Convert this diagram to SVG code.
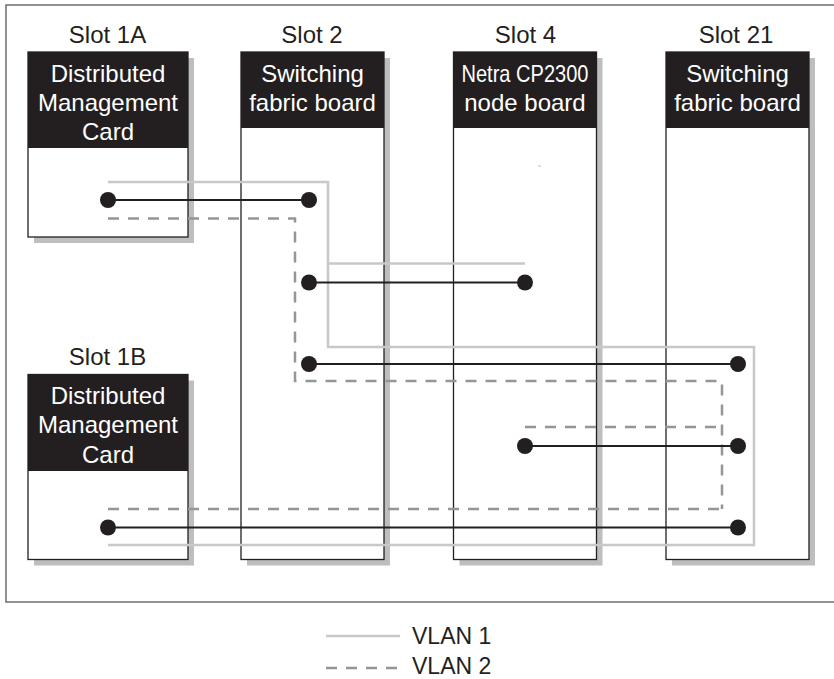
<svg xmlns="http://www.w3.org/2000/svg" width="834" height="679" viewBox="0 0 834 679">
  <style>
    .frame { fill: none; stroke: #6d6e71; stroke-width: 1.5; }
    .shadow { fill: #bcbec0; }
    .body { fill: #ffffff; stroke: #231f20; stroke-width: 1.3; }
    .head { fill: #231f20; }
    .slot { font-family: "Liberation Sans", Arial, sans-serif; font-size: 24px; fill: #231f20; text-anchor: middle; }
    .htxt { font-family: "Liberation Sans", Arial, sans-serif; font-size: 24px; fill: #ffffff; text-anchor: middle; }
    .vlan1 { fill: none; stroke: #c8c8c8; stroke-width: 2.5; }
    .vlan2 { fill: none; stroke: #939598; stroke-width: 2.5; stroke-dasharray: 11 9; }
    .link { fill: none; stroke: #231f20; stroke-width: 2.2; }
    .port { fill: #231f20; }
    .leg { font-family: "Liberation Sans", Arial, sans-serif; font-size: 23px; fill: #231f20; }
  </style>

  <!-- chassis outline -->
  <path class="frame" d="M834 5 H6 V602 H834"/>

  <!-- Slot 1A -->
  <g id="slot1a">
    <text class="slot" x="107.5" y="43">Slot 1A</text>
    <rect class="shadow" x="34" y="58" width="160" height="185"/>
    <rect class="body" x="28" y="52" width="160" height="185"/>
    <rect class="head" x="28" y="52" width="160" height="96"/>
    <text class="htxt" x="108" y="82">Distributed</text>
    <text class="htxt" x="108" y="110.5">Management</text>
    <text class="htxt" x="108" y="139.5">Card</text>
  </g>

  <!-- Slot 2 -->
  <g id="slot2">
    <text class="slot" x="312" y="43">Slot 2</text>
    <rect class="shadow" x="247" y="58" width="143" height="507.5"/>
    <rect class="body" x="241" y="52" width="143" height="507.5"/>
    <rect class="head" x="241" y="52" width="143" height="76"/>
    <text class="htxt" x="312.5" y="82">Switching</text>
    <text class="htxt" x="312.5" y="110.5">fabric board</text>
  </g>

  <!-- Slot 4 -->
  <g id="slot4">
    <text class="slot" x="525.5" y="43">Slot 4</text>
    <rect class="shadow" x="459.5" y="58" width="143" height="507.5"/>
    <rect class="body" x="453.5" y="52" width="143" height="507.5"/>
    <rect class="head" x="453.5" y="52" width="143" height="76"/>
    <text class="htxt" x="525" y="82" textLength="127" lengthAdjust="spacingAndGlyphs">Netra CP2300</text>
    <text class="htxt" x="525" y="110.5">node board</text>
    <rect x="538" y="165.5" width="3" height="1" fill="#bbbbbb"/>
  </g>

  <!-- Slot 21 -->
  <g id="slot21">
    <text class="slot" x="736" y="43">Slot 21</text>
    <rect class="shadow" x="672" y="58" width="143" height="507.5"/>
    <rect class="body" x="666" y="52" width="143" height="507.5"/>
    <rect class="head" x="666" y="52" width="143" height="76"/>
    <text class="htxt" x="737.5" y="82">Switching</text>
    <text class="htxt" x="737.5" y="110.5">fabric board</text>
  </g>

  <!-- Slot 1B -->
  <g id="slot1b">
    <text class="slot" x="107.5" y="365">Slot 1B</text>
    <rect class="shadow" x="34" y="380.5" width="160" height="185"/>
    <rect class="body" x="28" y="374.5" width="160" height="185"/>
    <rect class="head" x="28" y="374.5" width="160" height="96.5"/>
    <text class="htxt" x="108" y="404">Distributed</text>
    <text class="htxt" x="108" y="433">Management</text>
    <text class="htxt" x="108" y="462.5">Card</text>
  </g>

  <!-- connectors -->
  <g id="connectors">
    <path class="vlan1" d="M108 182 H328 V347 H754 V545 H108"/>
    <path class="vlan1" d="M328 263.5 H525"/>
    <path class="vlan2" d="M108 218.5 H295 V381 H722 V509"/>
    <path class="vlan2" d="M108 509 H722"/>
    <path class="vlan2" d="M525 427 H722"/>

    <path class="link" d="M108 200 H309"/>
    <path class="link" d="M309 282.5 H525"/>
    <path class="link" d="M309 364 H738"/>
    <path class="link" d="M525 446 H738"/>
    <path class="link" d="M108 527.5 H738"/>

    <circle class="port" cx="108" cy="200" r="8"/>
    <circle class="port" cx="309" cy="200" r="8"/>
    <circle class="port" cx="309" cy="282.5" r="8"/>
    <circle class="port" cx="525" cy="282.5" r="8"/>
    <circle class="port" cx="309" cy="364" r="8"/>
    <circle class="port" cx="738" cy="364" r="8"/>
    <circle class="port" cx="525" cy="446" r="8"/>
    <circle class="port" cx="738" cy="446" r="8"/>
    <circle class="port" cx="108" cy="527.5" r="8"/>
    <circle class="port" cx="738" cy="527.5" r="8"/>
  </g>

  <!-- legend -->
  <g id="legend">
    <path class="vlan1" d="M326 636 H400"/>
    <text class="leg" x="412" y="643.5">VLAN 1</text>
    <path class="vlan2" d="M326 668 H400"/>
    <text class="leg" x="412" y="673.5">VLAN 2</text>
  </g>
</svg>
